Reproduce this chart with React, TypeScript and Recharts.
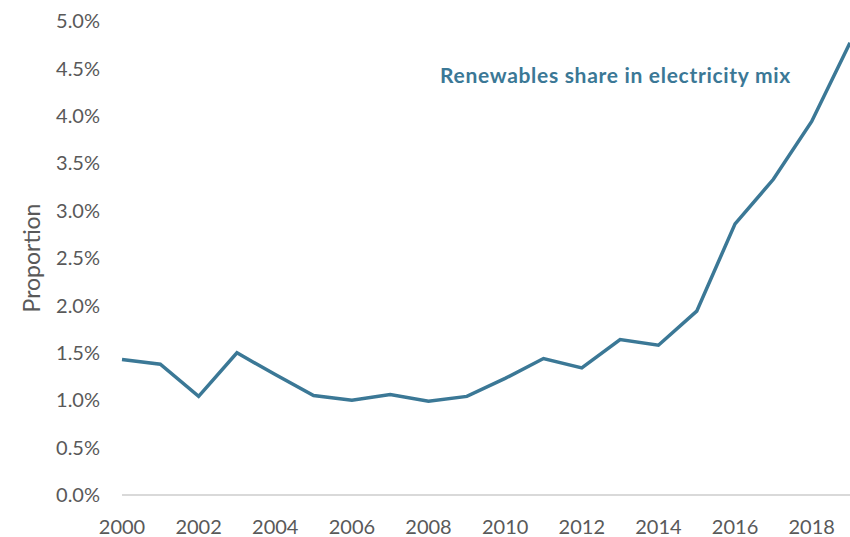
import React from "react";
import { LineChart, Line, XAxis, YAxis } from "recharts";

const years: number[] = [
  2000, 2001, 2002, 2003, 2004, 2005, 2006, 2007, 2008, 2009,
  2010, 2011, 2012, 2013, 2014, 2015, 2016, 2017, 2018, 2019,
];

// renewables share, in percent
const share: number[] = [
  1.43, 1.38, 1.04, 1.5, 1.27, 1.05, 1.0, 1.06, 0.99, 1.04,
  1.23, 1.44, 1.34, 1.64, 1.58, 1.94, 2.86, 3.33, 3.94, 4.77,
];

const xTicks: number[] = [2000, 2002, 2004, 2006, 2008, 2010, 2012, 2014, 2016, 2018];
const yTicks: number[] = [0, 0.5, 1, 1.5, 2, 2.5, 3, 3.5, 4, 4.5, 5];

const data = years.map((year, i) => ({ year, share: share[i] }));

const FONT = "Lato, 'DejaVu Sans', sans-serif";
const tickStyle = { fill: "#595959", fontSize: 20, fontFamily: FONT };

const App = () => {
  return (
    <div
      style={{
        position: "absolute",
        left: 0,
        top: 0,
        width: 850,
        height: 537,
        overflow: "hidden",
        background: "#fff",
      }}
    >
      <LineChart
        width={850}
        height={537}
        data={data}
        margin={{ top: 21, right: 0, bottom: 0, left: 0 }}
      >
        <XAxis
          dataKey="year"
          type="number"
          domain={[2000, 2019]}
          ticks={xTicks}
          interval={0}
          height={42}
          tickLine={false}
          tickMargin={19}
          axisLine={{ stroke: "#d9d9d9", strokeWidth: 2 }}
          tick={tickStyle}
        />
        <YAxis
          domain={[0, 5]}
          ticks={yTicks}
          interval={0}
          width={122}
          axisLine={false}
          tickLine={false}
          tickMargin={16}
          tick={tickStyle}
          tickFormatter={(v: number) => v.toFixed(1) + "%"}
          label={(props: any) => {
            const vb = props.viewBox || {};
            const cx = 31;
            const cy = (vb.y ?? 21) + (vb.height ?? 474) / 2;
            return (
              <text
                x={cx}
                y={cy}
                transform={`rotate(-90 ${cx} ${cy})`}
                textAnchor="middle"
                dominantBaseline="central"
                fill="#595959"
                fontSize={23}
                fontFamily={FONT}
              >
                Proportion
              </text>
            );
          }}
        />
        <Line
          type="linear"
          dataKey="share"
          stroke="#3b7896"
          strokeWidth={3.5}
          dot={false}
          isAnimationActive={false}
        />
      </LineChart>
      <div
        style={{
          position: "absolute",
          left: 440,
          top: 61,
          fontFamily: FONT,
          fontWeight: 700,
          fontSize: 21,
          letterSpacing: 0.7,
          color: "#3b7896",
          whiteSpace: "nowrap",
          lineHeight: "28px",
        }}
      >
        Renewables share in electricity mix
      </div>
    </div>
  );
};

export default App;
